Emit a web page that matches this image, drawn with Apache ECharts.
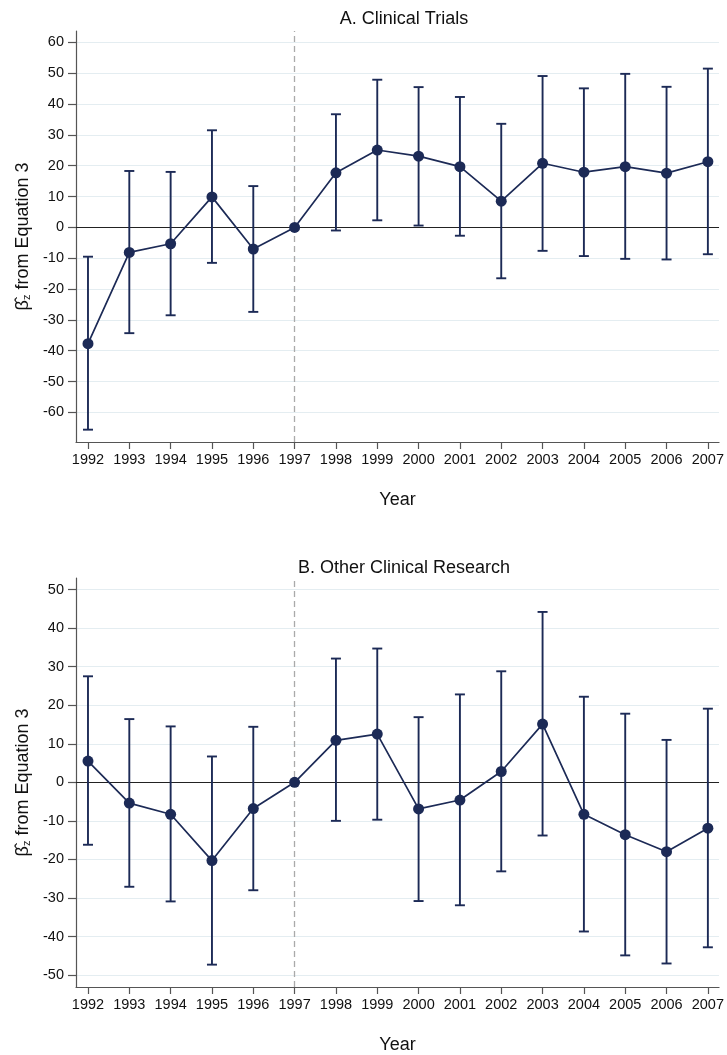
<!DOCTYPE html>
<html>
<head>
<meta charset="utf-8">
<script src="https://cdn.jsdelivr.net/npm/echarts@6/dist/echarts.min.js"></script>
<style>
  html, body { margin: 0; padding: 0; background: #fff; }
  #main { width: 727px; height: 1055px; }
</style>
</head>
<body>
<div id="main"></div>
<script>
var years = [1992, 1993, 1994, 1995, 1996, 1997, 1998, 1999, 2000, 2001, 2002, 2003, 2004, 2005, 2006, 2007];

// A. Clinical Trials
var coefA  = [-37.7, -8.1, -5.3, 9.9, -7.0, 0, 17.7, 25.1, 23.1, 19.7, 8.5, 20.8, 17.9, 19.7, 17.6, 21.3];
var lowerA = [-65.6, -34.3, -28.5, -11.5, -27.4, null, -1.0, 2.3, 0.6, -2.7, -16.5, -7.6, -9.3, -10.2, -10.4, -8.7];
var upperA = [-9.5, 18.3, 18.0, 31.5, 13.4, null, 36.7, 47.9, 45.5, 42.3, 33.6, 49.1, 45.1, 49.8, 45.6, 51.5];
var ticksA = [-60, -50, -40, -30, -20, -10, 0, 10, 20, 30, 40, 50, 60];

// B. Other Clinical Research
var coefB  = [5.5, -5.4, -8.3, -20.3, -6.8, 0, 10.9, 12.5, -6.9, -4.6, 2.8, 15.1, -8.3, -13.6, -18.0, -11.9];
var lowerB = [-16.2, -27.1, -30.9, -47.3, -28.0, null, -10.0, -9.7, -30.8, -31.9, -23.1, -13.8, -38.7, -44.9, -47.0, -42.8];
var upperB = [27.5, 16.4, 14.5, 6.7, 14.4, null, 32.1, 34.7, 16.9, 22.8, 28.8, 44.2, 22.2, 17.8, 11.0, 19.1];
var ticksB = [-50, -40, -30, -20, -10, 0, 10, 20, 30, 40, 50];

var refYear = 1997;
var navy = '#1c2a56';
var font = 'Liberation Sans, Arial, Helvetica, sans-serif';

var myChart = echarts.init(document.getElementById('main'));

function xAxisFor(idx) {
    return {
        gridIndex: idx,
        type: 'value',
        min: 1991.71,
        max: 2007.27,
        name: 'Year',
        nameLocation: 'middle',
        nameGap: 49,
        nameTextStyle: { fontFamily: font, fontSize: 18, color: '#111' },
        axisLine: { onZero: false, lineStyle: { color: '#555', width: 1.2 } },
        axisTick: { customValues: years, length: 7, lineStyle: { color: '#555', width: 1.2 } },
        axisLabel: {
            customValues: years,
            margin: 10,
            fontFamily: font, fontSize: 14.5, color: '#111',
            formatter: function (v) { return String(v); }
        },
        splitLine: { show: false }
    };
}

function yAxisFor(idx, lo, hi, ticks) {
    return {
        gridIndex: idx,
        type: 'value',
        min: lo,
        max: hi,
        name: '{b|β\u0302}{z|z}{t| from Equation 3}',
        nameLocation: 'middle',
        nameRotate: 90,
        nameGap: 40,
        nameTextStyle: {
            fontFamily: font, fontSize: 18, color: '#111',
            rich: {
                b: { fontFamily: font, fontSize: 18, color: '#111' },
                z: { fontFamily: font, fontSize: 11, color: '#111', verticalAlign: 'bottom', padding: [8, 0, 0, 0] },
                t: { fontFamily: font, fontSize: 18, color: '#111' }
            }
        },
        axisLine: { onZero: false, show: true, lineStyle: { color: '#555', width: 1.2 } },
        axisTick: { show: true, customValues: ticks, length: 8, lineStyle: { color: '#555', width: 1.2 } },
        axisLabel: {
            customValues: ticks,
            margin: 12,
            fontFamily: font, fontSize: 14.5, color: '#111'
        },
        splitLine: { show: false }
    };
}

function errorData(lower, upper) {
    var out = [];
    for (var i = 0; i < years.length; i++) {
        if (lower[i] == null || upper[i] == null) continue;
        out.push([years[i], lower[i], upper[i]]);
    }
    return out;
}

function pointData(coef) {
    var out = [];
    for (var i = 0; i < years.length; i++) out.push([years[i], coef[i]]);
    return out;
}

function renderBar(params, api) {
    var x = api.value(0);
    var lo = api.coord([x, api.value(1)]);
    var hi = api.coord([x, api.value(2)]);
    var w = 5;
    var style = { stroke: navy, lineWidth: 1.9, fill: null };
    return {
        type: 'group',
        children: [
            { type: 'line', shape: { x1: hi[0], y1: hi[1], x2: lo[0], y2: lo[1] }, style: style },
            { type: 'line', shape: { x1: hi[0] - w, y1: hi[1], x2: hi[0] + w, y2: hi[1] }, style: style },
            { type: 'line', shape: { x1: lo[0] - w, y1: lo[1], x2: lo[0] + w, y2: lo[1] }, style: style }
        ]
    };
}

function panelSeries(idx, coef, lower, upper, ticks) {
    var grid = [];
    for (var i = 0; i < ticks.length; i++) {
        if (ticks[i] !== 0) grid.push({ yAxis: ticks[i] });
    }
    return [
        {
            // gridlines
            type: 'line',
            xAxisIndex: idx, yAxisIndex: idx,
            data: [],
            silent: true,
            z: 0,
            markLine: {
                z: 0,
                silent: true,
                symbol: 'none',
                label: { show: false },
                lineStyle: { color: '#e4edf1', type: 'solid', width: 1.2 },
                data: grid
            }
        },
        {
            // zero line + reference year
            type: 'line',
            xAxisIndex: idx, yAxisIndex: idx,
            data: [],
            silent: true,
            z: 1,
            markLine: {
                z: 1,
                silent: true,
                symbol: 'none',
                label: { show: false },
                data: [
                    { yAxis: 0, lineStyle: { color: '#222', type: 'solid', width: 1.2 } },
                    { xAxis: refYear, lineStyle: { color: '#aaa', type: [6, 4], width: 1.3 } }
                ]
            }
        },
        {
            type: 'custom',
            xAxisIndex: idx, yAxisIndex: idx,
            renderItem: renderBar,
            data: errorData(lower, upper),
            z: 3
        },
        {
            type: 'line',
            xAxisIndex: idx, yAxisIndex: idx,
            data: pointData(coef),
            symbol: 'circle',
            symbolSize: 11,
            itemStyle: { color: navy },
            lineStyle: { color: navy, width: 1.7 },
            z: 4
        }
    ];
}

var option = {
    backgroundColor: '#fff',
    animation: false,
    title: [
        { text: 'A. Clinical Trials', left: 399, top: 5, textAlign: 'center',
          textStyle: { fontFamily: font, fontSize: 18, fontWeight: 'normal', color: '#111' } },
        { text: 'B. Other Clinical Research', left: 399, top: 554, textAlign: 'center',
          textStyle: { fontFamily: font, fontSize: 18, fontWeight: 'normal', color: '#111' } }
    ],
    grid: [
        { left: 76, top: 31, width: 647, height: 411 },
        { left: 76, top: 578, width: 647, height: 411 }
    ],
    xAxis: [xAxisFor(0), xAxisFor(1)],
    yAxis: [yAxisFor(0, -69.6, 63.7, ticksA), yAxisFor(1, -53.1, 53.0, ticksB)],
    series: panelSeries(0, coefA, lowerA, upperA, ticksA)
        .concat(panelSeries(1, coefB, lowerB, upperB, ticksB))
};

myChart.setOption(option);
</script>
</body>
</html>
